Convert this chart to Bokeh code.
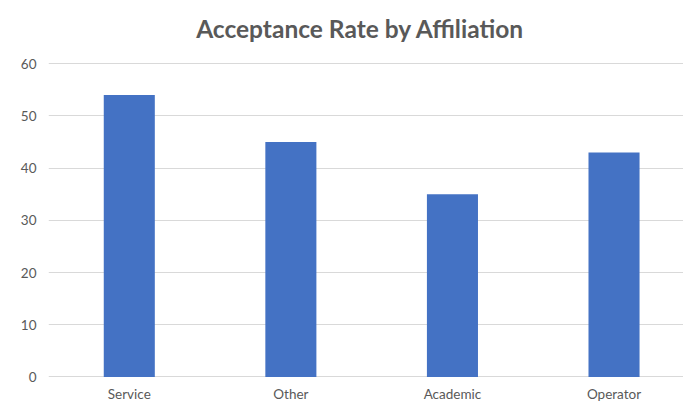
from bokeh.plotting import figure
from bokeh.models import ColumnDataSource, Range1d, FixedTicker, Label
from bokeh.embed import file_html
from bokeh.resources import INLINE

# Acceptance rate (%) per affiliation
categories = ["Service", "Other", "Academic", "Operator"]
rates = [54, 45, 35, 43]
y_ticks = [0, 10, 20, 30, 40, 50, 60]
chart_title = "Acceptance Rate by Affiliation"

positions = list(range(len(categories)))
source = ColumnDataSource(data=dict(x=positions, rate=rates, name=categories))

TEXT_GRAY = "#595959"
BAR_BLUE = "#4472C4"
FONT = "Lato"

# The frame runs up to the top edge so the heading can sit inside it;
# ticks and grid lines stop at 60.
p = figure(
    width=683, height=404,
    x_range=Range1d(-0.5, 3.43),
    y_range=Range1d(-0.3, 72.11),
    output_backend="svg", toolbar_location=None,
    min_border_left=48, min_border_right=0,
    min_border_top=0, min_border_bottom=26,
)

p.vbar(x="x", top="rate", bottom=0, width=0.316, source=source,
       fill_color=BAR_BLUE, line_color=None)

# Heading, centred above the bars
title = Label(x=1.43, y=66.75, text=chart_title,
              text_align="center", text_baseline="middle",
              text_font=FONT, text_font_size="24.5px", text_font_style="bold",
              text_color=TEXT_GRAY)
p.add_layout(title)

# Axes
p.xaxis.ticker = FixedTicker(ticks=positions)
p.xaxis.major_label_overrides = {i: c for i, c in enumerate(categories)}
p.yaxis.ticker = FixedTicker(ticks=y_ticks)
for ax in (p.xaxis[0], p.yaxis[0]):
    ax.axis_line_color = None
    ax.major_tick_line_color = None
    ax.minor_tick_line_color = None
    ax.major_tick_out = 0
    ax.major_tick_in = 0
    ax.minor_tick_out = 0
    ax.minor_tick_in = 0
    ax.major_label_text_font = FONT
    ax.major_label_text_font_size = "13.5px"
    ax.major_label_text_color = TEXT_GRAY
p.yaxis.major_label_standoff = 12
p.xaxis.major_label_standoff = 7

# Grid
p.xgrid.grid_line_color = None
p.ygrid.grid_line_color = "#d9d9d9"
p.ygrid.grid_line_width = 1

p.outline_line_color = None
p.background_fill_color = "white"
p.border_fill_color = "white"

open("out.html", "w").write(file_html(p, INLINE))
